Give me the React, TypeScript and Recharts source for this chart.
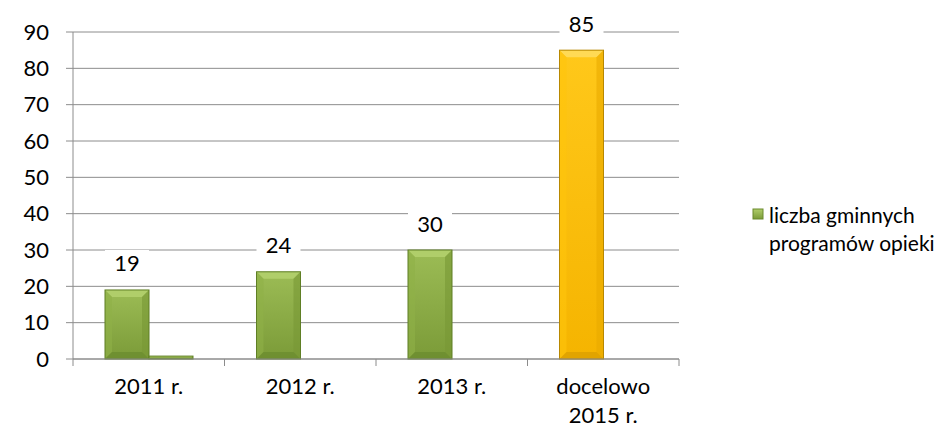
import React from 'react';
import { BarChart, Bar, XAxis, YAxis, CartesianGrid, Cell, LabelList } from 'recharts';

const categories = ['2011 r.', '2012 r.', '2013 r.', 'docelowo 2015 r.'];
const programValues = [19, 24, 30, 85];
const secondValues = [0.8, 0, 0, 0];
const yTicks = [0, 10, 20, 30, 40, 50, 60, 70, 80, 90];
const seriesName = 'liczba gminnych programów opieki';

const data = categories.map((c, i) => ({ category: c, a: programValues[i], b: secondValues[i] }));

const FONT = 'Lato, "Open Sans", sans-serif';
const FS = 22;
const LEGEND_FS = 21;

const GREEN = { faceTop: '#9cbc55', faceBottom: '#7b9b38', top: '#b0ce6a', left: '#8fb048', right: '#789836', bottom: '#6a8a2e', stroke: '#5f7f25' };
const YELLOW = { faceTop: '#ffc81a', faceBottom: '#f5b400', top: '#ffda55', left: '#ffc40c', right: '#eaaa00', bottom: '#d99d00', stroke: '#b88800' };

const BevelBar = (props: any) => {
  const { x, y, width, height, index, yellowIndex, seriesKey } = props;
  if (!height || height <= 0) return null;
  const c = index === yellowIndex ? YELLOW : GREEN;
  const b = Math.min(7, height / 2, width / 4);
  const x2 = x + width;
  const y2 = y + height;
  const gid = `g-${seriesKey}-${index}`;
  return (
    <g>
      <defs>
        <linearGradient id={gid} x1="0" y1="0" x2="0" y2="1">
          <stop offset="0" stopColor={c.faceTop} />
          <stop offset="1" stopColor={c.faceBottom} />
        </linearGradient>
      </defs>
      <rect x={x} y={y} width={width} height={height} fill={`url(#${gid})`} />
      <polygon points={`${x},${y} ${x2},${y} ${x2 - b},${y + b} ${x + b},${y + b}`} fill={c.top} />
      <polygon points={`${x},${y} ${x + b},${y + b} ${x + b},${y2 - b} ${x},${y2}`} fill={c.left} opacity={0.6} />
      <polygon points={`${x2},${y} ${x2 - b},${y + b} ${x2 - b},${y2 - b} ${x2},${y2}`} fill={c.right} opacity={0.6} />
      <polygon points={`${x},${y2} ${x + b},${y2 - b} ${x2 - b},${y2 - b} ${x2},${y2}`} fill={c.bottom} opacity={0.7} />
      <rect x={x} y={y} width={width} height={height} fill="none" stroke={c.stroke} strokeWidth={1} />
    </g>
  );
};

const ValueLabel = (props: any) => {
  const { x, y, width, value } = props;
  const cx = x + width / 2;
  const cy = y - 27;
  return (
    <g>
      <rect x={x} y={cy - 13} width={width} height={26} fill="#ffffff" />
      <text x={cx} y={cy} textAnchor="middle" dominantBaseline="central" fontFamily={FONT} fontSize={FS} fill="#000">
        {value}
      </text>
    </g>
  );
};

const wrap = (s: string, max: number) => {
  const words = s.split(' ');
  const lines: string[] = [];
  let cur = '';
  words.forEach((w) => {
    if (!cur) cur = w;
    else if ((cur + ' ' + w).length <= max) cur = cur + ' ' + w;
    else {
      lines.push(cur);
      cur = w;
    }
  });
  if (cur) lines.push(cur);
  return lines;
};

const PLOT_W = 606;
const BAND = PLOT_W / categories.length;

const XTick = (props: any) => {
  const { x, y, payload, index } = props;
  const lines = wrap(String(payload.value), 9);
  return (
    <g>
      <line x1={x - BAND / 2} x2={x - BAND / 2} y1={y} y2={y + 7} stroke="#8c8c8c" strokeWidth={1} />
      {index === categories.length - 1 && (
        <line x1={x + BAND / 2} x2={x + BAND / 2} y1={y} y2={y + 7} stroke="#8c8c8c" strokeWidth={1} />
      )}
      {lines.map((l, i) => (
        <text key={i} x={x} y={y + 26 + i * 29} textAnchor="middle" dominantBaseline="central" fontFamily={FONT} fontSize={FS} fill="#000">
          {l}
        </text>
      ))}
    </g>
  );
};

const LegendBox = () => {
  const lines = wrap(seriesName, 16);
  return (
    <svg width={180} height={60} style={{ position: 'absolute', left: 741, top: 187, overflow: 'visible' }}>
      <defs>
        <linearGradient id="lg" x1="0" y1="0" x2="0" y2="1">
          <stop offset="0" stopColor="#b0ce6a" />
          <stop offset="1" stopColor="#7b9b38" />
        </linearGradient>
      </defs>
      <rect x={4} y={14} width={10} height={10} fill="url(#lg)" stroke="#6a8a2c" strokeWidth={1} />
      {lines.map((l, i) => (
        <text key={i} x={20} y={19 + i * 28} dominantBaseline="central" fontFamily={FONT} fontSize={LEGEND_FS} fill="#000">
          {l}
        </text>
      ))}
    </svg>
  );
};

export default function App() {
  return (
    <div style={{ width: 927, height: 420, position: 'relative' }}>
      <BarChart
        width={927}
        height={420}
        data={data}
        margin={{ top: 24, right: 256, bottom: 9, left: 0 }}
        barGap={0}
        barSize={44}
      >
        <CartesianGrid vertical={false} stroke="#8c8c8c" strokeWidth={1} />
        <XAxis
          dataKey="category"
          height={60}
          interval={0}
          tickSize={0}
          tickMargin={0}
          tickLine={false}
          axisLine={{ stroke: '#8c8c8c' }}
          tick={<XTick />}
        />
        <YAxis
          width={65}
          domain={[0, 90]}
          ticks={yTicks}
          interval={0}
          tickSize={7}
          tickMargin={17}
          tickLine={{ stroke: '#8c8c8c' }}
          axisLine={{ stroke: '#8c8c8c' }}
          tick={{ fontFamily: FONT, fontSize: FS, fill: '#000' }}
        />
        <Bar dataKey="a" name={seriesName} isAnimationActive={false} shape={<BevelBar yellowIndex={3} seriesKey="a" />}>
          {data.map((d, i) => (
            <Cell key={i} fill={i === 3 ? '#ffc000' : '#8cae46'} />
          ))}
          <LabelList dataKey="a" content={<ValueLabel />} />
        </Bar>
        <Bar dataKey="b" name="" legendType="none" isAnimationActive={false} shape={<BevelBar yellowIndex={-1} seriesKey="b" />} />
      </BarChart>
      <LegendBox />
    </div>
  );
}
